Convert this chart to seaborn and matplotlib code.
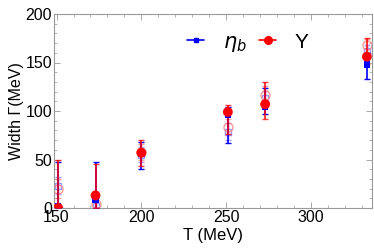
import numpy as np
import seaborn as sns
import matplotlib.pyplot as plt
from matplotlib.lines import Line2D

# temperatures (MeV)
temps = [151, 173, 200, 251, 273, 333]

# Upsilon (red circles), filled
ups_width = [0, 13, 57, 99, 107, 156]
ups_low = [0, 0, 43, 76, 92, 148]
ups_high = [50, 45, 70, 106, 130, 175]

# eta_b (blue squares), filled
eta_width = [2, 9, 56, 96, 104, 148]
eta_low = [0, 0, 40, 67, 97, 133]
eta_high = [47, 47, 68, 104, 124, 160]

# open (second estimate) points
ups_open = [20, 4, 58, 83, 117, 168]
ups_open_low = [10, 0, 50, 75, 108, 160]
ups_open_high = [30, 12, 66, 92, 126, 174]
eta_open = [23, 2, 55, 78, 113, 162]
eta_open_low = [14, 0, 47, 70, 104, 155]
eta_open_high = [32, 10, 63, 88, 121, 168]

sns.set_theme(style="ticks")
plt.rcParams['font.family'] = ['Liberation Sans', 'DejaVu Sans']
plt.rcParams['text.color'] = 'black'
plt.rcParams['axes.labelcolor'] = 'black'

fig = plt.figure(figsize=(3.74, 2.52), dpi=100)
ax = fig.add_axes([54 / 374, 44 / 252, 318 / 374, 194 / 252])


def err(vals, lo, hi):
    v = np.array(vals, float)
    return np.vstack([v - np.array(lo), np.array(hi) - v])


# open points first (faded)
ax.errorbar(temps, eta_open, yerr=err(eta_open, eta_open_low, eta_open_high),
            fmt='s', mfc='none', mec=(0.5, 0.5, 1, 0.8), ecolor=(0.4, 0.4, 1, 0.6),
            ms=4.5, elinewidth=1, capsize=2, zorder=2)
ax.errorbar(temps, ups_open, yerr=err(ups_open, ups_open_low, ups_open_high),
            fmt='o', mfc='none', mec=(1, 0.5, 0.5, 0.8), ecolor=(1, 0.4, 0.4, 0.6),
            ms=6.5, elinewidth=1, capsize=2, zorder=2)

# filled points
ax.errorbar(temps, eta_width, yerr=err(eta_width, eta_low, eta_high),
            fmt='none', ecolor='blue', elinewidth=1.2, capsize=2, zorder=3)
ax.errorbar(temps, ups_width, yerr=err(ups_width, ups_low, ups_high),
            fmt='none', ecolor=(1, 0, 0, 0.75), elinewidth=1.5, capsize=2, zorder=4)
sns.scatterplot(x=temps, y=eta_width, marker='s', color='blue', s=22,
                edgecolor='none', ax=ax, zorder=5)
sns.scatterplot(x=temps, y=ups_width, marker='o', color='red', s=50,
                edgecolor='none', ax=ax, zorder=6)

ax.set_xlim(148.5, 336)
ax.set_ylim(0, 200)
ax.set_xticks([150, 200, 250, 300])
ax.set_yticks([0, 50, 100, 150, 200])
ax.set_xticks(np.arange(160, 336, 10), minor=True)
ax.set_yticks(np.arange(10, 200, 10), minor=True)
ax.tick_params(which='both', direction='in', top=True, right=True,
               color='#999999', labelsize=11.5, labelcolor='black', pad=1.5)
ax.tick_params(which='major', length=4, width=0.6)
ax.tick_params(which='minor', length=2, width=0.5)
for s in ax.spines.values():
    s.set_color('#999999')
    s.set_linewidth(0.8)

ax.set_xlabel('T (MeV)', fontsize=12, labelpad=2)
ax.set_ylabel('Width Γ(MeV)', fontsize=11.5, labelpad=1)

handles = [
    Line2D([], [], color='blue', marker='s', ms=3.5, lw=1.2),
    Line2D([], [], color='red', marker='o', ms=5.5, lw=1.2),
]
ax.legend(handles, [r'$\eta_b$', 'Υ'], loc='center', bbox_to_anchor=(0.61, 0.85),
          ncol=2, frameon=False, fontsize=15, handlelength=0.8,
          handletextpad=0.9, columnspacing=0.6)

fig.savefig('out.png', dpi=100)
